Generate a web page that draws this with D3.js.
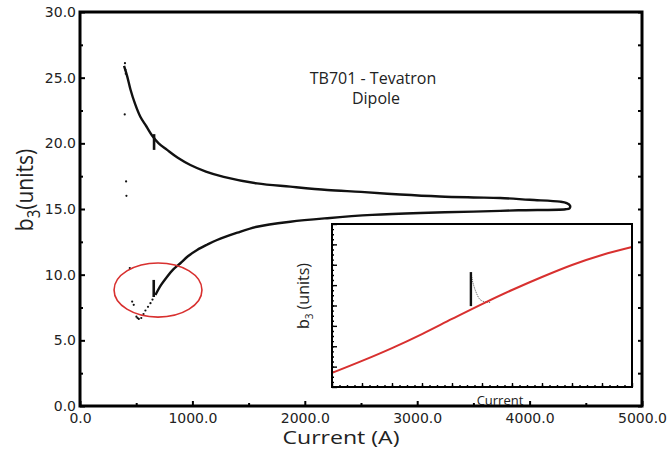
<!DOCTYPE html>
<html>
<head>
<meta charset="utf-8">
<script src="https://cdn.jsdelivr.net/npm/d3@7"></script>
<style>
  body { margin: 0; background: #fff; }
  svg { display: block; }
</style>
</head>
<body>
<script>
var width = 669;
var height = 454;
var margin = {top: 12, right: 27, bottom: 48, left: 80};
var lineColor = '#111';
var redColor = '#d8302f';

// upper branch (down-ramp), current in A and b3 in units
var upperCurrent = [392, 420, 449, 490, 538, 590, 641, 700, 775, 870, 982, 1120, 1278, 1575, 1871, 2200, 2500, 2849, 3200, 3500, 3738, 4000, 4271, 4330, 4360];
var upperB3 = [25.9, 25.1, 24.1, 23.0, 22.0, 21.3, 20.6, 20.0, 19.5, 18.9, 18.35, 17.85, 17.45, 16.95, 16.7, 16.45, 16.3, 16.1, 15.95, 15.88, 15.84, 15.7, 15.56, 15.45, 15.25];

// lower branch (up-ramp) after the jump, listed from the tip back down
var lowerCurrent = [4355, 4320, 3900, 3500, 3027, 2600, 2200, 1871, 1575, 1400, 1219, 1130, 1042, 960, 893, 830, 775, 720, 671];
var lowerB3 = [15.05, 14.98, 14.9, 14.8, 14.7, 14.55, 14.3, 14.03, 13.65, 13.2, 12.64, 12.28, 11.88, 11.4, 10.87, 10.4, 9.85, 9.2, 8.45];

// loose points at low current
var dotCurrent = [398, 410, 413, 443, 464, 478, 502, 512, 523, 545, 565, 582, 605, 627, 645, 400, 404, 407];
var dotB3 = [22.2, 17.1, 16.0, 10.5, 7.95, 7.7, 6.8, 6.7, 6.63, 6.7, 7.0, 7.27, 7.55, 7.83, 8.1, 26.1, 25.6, 25.3];

// vertical jumps
var jumpCurrent = [659, 656];
var jumpFrom = [19.5, 8.3];
var jumpTo = [20.7, 9.6];

var xMajor = [0, 1000, 2000, 3000, 4000, 5000];
var xMinor = [500, 1500, 2500, 3500, 4500];
var yMajor = [0, 5, 10, 15, 20, 25, 30];
var yMinor = [2.5, 7.5, 12.5, 17.5, 22.5, 27.5];

// inset: zoomed view (no numbers on the axes)
var insetX = [0, 1, 2, 3, 4, 5, 6, 7, 8, 9, 10];
var insetRed = [0.69, 1.28, 1.91, 2.6, 3.34, 4.07, 4.76, 5.4, 5.99, 6.48, 6.87];
var insetDecayX = [4.64, 4.67, 4.72, 4.8, 4.93, 5.1, 5.3];
var insetDecayY = [5.6, 5.3, 5.0, 4.66, 4.3, 4.18, 4.15];
var insetJumpX = 4.63;
var insetJumpFrom = 3.97;
var insetJumpTo = 5.64;

var svg = d3.select('body')
    .append('svg')
    .attr('width', width)
    .attr('height', height);

var x = d3.scaleLinear().domain([0, 5000]).range([margin.left, width - margin.right]);
var y = d3.scaleLinear().domain([0, 30]).range([height - margin.bottom, margin.top]);

var fmt = d3.format('.1f');

//bottom axis with labels
svg.append('g')
    .attr('transform', 'translate(0,' + (height - margin.bottom) + ')')
    .call(d3.axisBottom(x).tickValues(xMajor).tickSize(-5).tickPadding(7).tickFormat(fmt));
svg.append('g')
    .attr('transform', 'translate(0,' + (height - margin.bottom) + ')')
    .call(d3.axisBottom(x).tickValues(xMinor).tickSize(-3).tickFormat(''));

//left axis
svg.append('g')
    .attr('transform', 'translate(' + margin.left + ',0)')
    .call(d3.axisLeft(y).tickValues(yMajor).tickSize(-5).tickPadding(4).tickFormat(fmt));
svg.append('g')
    .attr('transform', 'translate(' + margin.left + ',0)')
    .call(d3.axisLeft(y).tickValues(yMinor).tickSize(-3).tickFormat(''));

//right axis, ticks only
svg.append('g')
    .attr('transform', 'translate(' + (width - margin.right) + ',0)')
    .call(d3.axisRight(y).tickValues(yMajor.concat(yMinor)).tickSize(-4).tickFormat(''));

svg.selectAll('.domain').remove();
svg.selectAll('.tick line').attr('stroke', '#000').attr('stroke-width', 2);
svg.selectAll('.tick text')
    .style('font-family', '"DejaVu Sans", sans-serif')
    .style('font-size', '14px')
    .attr('fill', '#222');

// frame
svg.append('rect')
    .attr('x', margin.left)
    .attr('y', margin.top)
    .attr('width', width - margin.left - margin.right)
    .attr('height', height - margin.top - margin.bottom)
    .attr('fill', 'none')
    .attr('stroke', '#000')
    .attr('stroke-width', 3);

// axis titles
svg.append('text')
    .attr('x', 341)
    .attr('y', 444)
    .attr('text-anchor', 'middle')
    .attr('textLength', 117)
    .attr('lengthAdjust', 'spacingAndGlyphs')
    .style('font-family', '"Open Sans", sans-serif')
    .style('font-size', '18px')
    .attr('fill', '#222')
    .text('Current (A)');

var yl = svg.append('text')
    .attr('transform', 'translate(33,190) scale(1.15,1) rotate(-90)')
    .attr('text-anchor', 'middle')
    .style('font-family', '"Open Sans", sans-serif')
    .style('font-size', '21px')
    .attr('fill', '#222');
yl.append('tspan').text('b');
yl.append('tspan').attr('dy', 6).style('font-size', '15px').text('3');
yl.append('tspan').attr('dy', -6).text('(units)');

// title
var title = svg.append('text')
    .attr('text-anchor', 'middle')
    .style('font-family', '"Open Sans", sans-serif')
    .style('font-size', '16px')
    .attr('fill', '#222');
title.append('tspan').attr('x', 373).attr('y', 84).text('TB701 - Tevatron');
title.append('tspan').attr('x', 376).attr('y', 104).text('Dipole');

// hysteresis loop: upper branch then lower branch back down
var loop = upperCurrent.map(function(d, i) { return [d, upperB3[i]]; })
    .concat(lowerCurrent.map(function(d, i) { return [d, lowerB3[i]]; }));

var line = d3.line()
    .x(function(d) { return x(d[0]); })
    .y(function(d) { return y(d[1]); })
    .curve(d3.curveCatmullRom);

svg.append('path')
    .datum(loop)
    .attr('d', line)
    .attr('fill', 'none')
    .attr('stroke', lineColor)
    .attr('stroke-width', 2.4);

svg.selectAll('.jump')
    .data(jumpCurrent)
    .enter().append('line')
    .attr('class', 'jump')
    .attr('x1', function(d) { return x(d); })
    .attr('x2', function(d) { return x(d); })
    .attr('y1', function(d, i) { return y(jumpFrom[i]); })
    .attr('y2', function(d, i) { return y(jumpTo[i]); })
    .attr('stroke', lineColor)
    .attr('stroke-width', 2.6);

svg.selectAll('.dot')
    .data(dotCurrent)
    .enter().append('circle')
    .attr('class', 'dot')
    .attr('cx', function(d) { return x(d); })
    .attr('cy', function(d, i) { return y(dotB3[i]); })
    .attr('r', 1.1)
    .attr('fill', lineColor);

// red ellipse around the jump
svg.append('ellipse')
    .attr('cx', x(694))
    .attr('cy', y(8.83))
    .attr('rx', x(391) - x(0))
    .attr('ry', y(0) - y(2.06))
    .attr('fill', 'none')
    .attr('stroke', redColor)
    .attr('stroke-width', 1.6);

// ---------- inset ----------
var ix = d3.scaleLinear().domain([0, 10]).range([332, 632]);
var iy = d3.scaleLinear().domain([0, 8]).range([387, 224]);

var inset = svg.append('g').attr('class', 'inset');

inset.append('rect')
    .attr('x', 332).attr('y', 224)
    .attr('width', 300).attr('height', 163)
    .attr('fill', '#fff');

inset.append('g')
    .attr('transform', 'translate(0,387)')
    .call(d3.axisBottom(ix).ticks(10).tickSize(-4).tickFormat(''));
inset.append('g')
    .attr('transform', 'translate(0,387)')
    .call(d3.axisBottom(ix).tickValues(d3.range(0.25, 10, 0.25)).tickSize(-2).tickFormat(''));
inset.append('g')
    .attr('transform', 'translate(332,0)')
    .call(d3.axisLeft(iy).ticks(8).tickSize(-5).tickFormat(''));
inset.append('g')
    .attr('transform', 'translate(332,0)')
    .call(d3.axisLeft(iy).tickValues(d3.range(0.25, 8, 0.25)).tickSize(-2).tickFormat(''));
inset.selectAll('.domain').remove();
inset.selectAll('.tick line').attr('stroke', '#000').attr('stroke-width', 1.4);

var iline = d3.line()
    .x(function(d) { return ix(d[0]); })
    .y(function(d) { return iy(d[1]); })
    .curve(d3.curveMonotoneX);

inset.append('path')
    .datum(insetDecayX.map(function(d, i) { return [d, insetDecayY[i]]; }))
    .attr('d', iline)
    .attr('fill', 'none')
    .attr('stroke', '#555')
    .attr('stroke-width', 1)
    .attr('stroke-dasharray', '1,1');

inset.append('path')
    .datum(insetX.map(function(d, i) { return [d, insetRed[i]]; }))
    .attr('d', iline)
    .attr('fill', 'none')
    .attr('stroke', redColor)
    .attr('stroke-width', 2);

inset.append('line')
    .attr('x1', ix(insetJumpX)).attr('x2', ix(insetJumpX))
    .attr('y1', iy(insetJumpFrom)).attr('y2', iy(insetJumpTo))
    .attr('stroke', lineColor)
    .attr('stroke-width', 2.4);

inset.append('rect')
    .attr('x', 332).attr('y', 224)
    .attr('width', 300).attr('height', 163)
    .attr('fill', 'none')
    .attr('stroke', '#000')
    .attr('stroke-width', 2);

inset.append('text')
    .attr('x', 500)
    .attr('y', 405)
    .attr('text-anchor', 'middle')
    .style('font-family', '"Open Sans", sans-serif')
    .style('font-size', '13px')
    .attr('fill', '#222')
    .text('Current');

var il = inset.append('text')
    .attr('transform', 'translate(309,296) rotate(-90)')
    .attr('text-anchor', 'middle')
    .style('font-family', '"Open Sans", sans-serif')
    .style('font-size', '16px')
    .attr('fill', '#222');
il.append('tspan').text('b');
il.append('tspan').attr('dy', 4).style('font-size', '10px').text('3');
il.append('tspan').attr('dy', -4).text(' (units)');
</script>
</body>
</html>
